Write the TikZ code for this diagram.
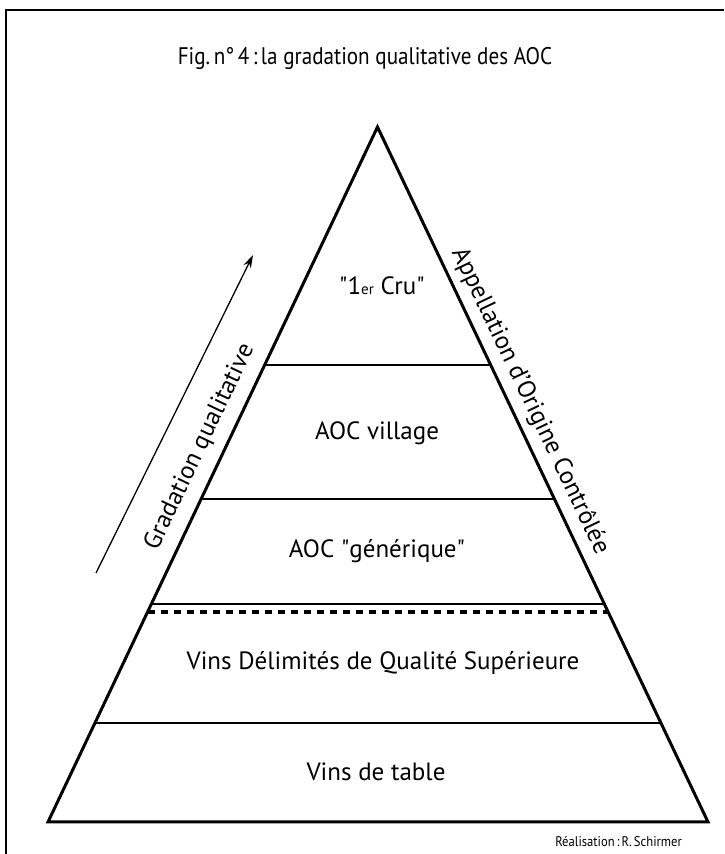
\documentclass[tikz,border=0pt]{standalone}
\usepackage{fontspec}
\setmainfont{PT Sans}
\usetikzlibrary{calc,arrows.meta}
\tikzset{
  lbl/.style={anchor=base, inner sep=0pt, font=\fontsize{25}{28}\selectfont},
  tier/.style={line width=2.4pt},
}
\begin{document}
\begin{tikzpicture}[x=1pt, y=1pt]
        \useasboundingbox (0,0) rectangle (724,854);
        \fill[white] (0,0) rectangle (724,854);
        \draw[line width=2pt] (6,0) -- (6,844) -- (724,844);

        \coordinate (apex) at (377.5,727);
        \coordinate (BL) at (48,32);
        \coordinate (BR) at (708,32);

        % levels
        \draw[tier] ($(apex)!0.3424!(BL)$) -- ($(apex)!0.3424!(BR)$);
        \draw[tier] ($(apex)!0.5353!(BL)$) -- ($(apex)!0.5353!(BR)$);
        \draw[tier] ($(apex)!0.6863!(BL)$) -- ($(apex)!0.6863!(BR)$);
        \draw[line width=4pt, dash pattern=on 7pt off 6pt] ($(apex)!0.6978!(BL)$) -- ($(apex)!0.6978!(BR)$);
        \draw[tier] ($(apex)!0.8576!(BL)$) -- ($(apex)!0.8576!(BR)$);
        \draw[line width=3pt, line join=miter] (apex) -- (BL) -- (BR) -- cycle;

        \node[lbl, font=\fontsize{24}{27}\selectfont, xscale=0.88] (title) at (365,789) {Fig.\,n\textdegree\,4\,:\,la gradation qualitative des AOC};
        \node[lbl] (cru) at (382,559) {\textquotedbl 1{\fontsize{15}{18}\selectfont er} Cru\textquotedbl};
        \node[lbl] (village) at (377,414) {AOC village};
        \node[lbl] (generique) at (377,296) {AOC \textquotedbl générique\textquotedbl};
        \node[lbl] (vdqs) at (383,184) {Vins Délimités de Qualité Supérieure};
        \node[lbl] (table) at (376,73) {Vins de table};
        \node[anchor=base east, inner sep=0pt, font=\fontsize{14}{16}\selectfont, xscale=0.9] (auteur) at (682,7) {Réalisation\,:\,R.\,Schirmer};

        \node[lbl, anchor=center, rotate=64.5] (gradation) at (200,407) {Gradation qualitative};
        \node[lbl, anchor=center, rotate=-64.5] (aoc) at (530,453) {Appellation d'Origine Contrôlée};

        \coordinate (arrS) at (96,281);
        \coordinate (arrT) at (253,599);
        \draw[line width=1.3pt, -{Stealth[length=13pt, width=8pt]}] (arrS) -- (arrT);

    \end{tikzpicture}
\end{document}
